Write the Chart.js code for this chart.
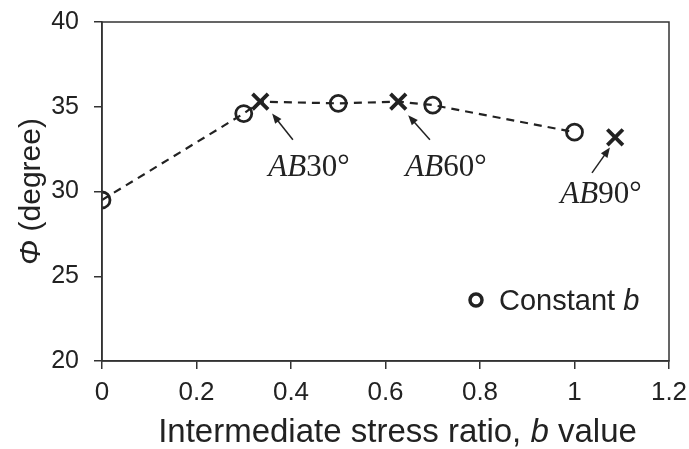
<!DOCTYPE html>
<html>
<head>
<meta charset="utf-8">
<script src="https://cdn.jsdelivr.net/npm/chart.js@4.4.0/dist/chart.umd.min.js"></script>
<style>
  html, body { margin: 0; padding: 0; background: #fff; }
  #wrap { width: 689px; height: 449px; }
</style>
</head>
<body>
<div id="wrap"><canvas id="phiChart" width="689" height="449"></canvas></div>
<script>
// constant b tests
const bConstant = [0, 0.3, 0.5, 0.7, 1.0];
const phiConstant = [29.5, 34.6, 35.2, 35.1, 33.5];

// AB tests (b value, phi)
const bAB = [0.335, 0.627, 1.086];
const phiAB = [35.3, 35.3, 33.2];
const abLabels = ['30°', '60°', '90°'];

// dashed trend line, goes through all points except AB90
const bTrend = [0, 0.3, 0.335, 0.5, 0.627, 0.7, 1.0];
const phiTrend = [29.5, 34.6, 35.3, 35.2, 35.3, 35.1, 33.5];

const xTicks = [0, 0.2, 0.4, 0.6, 0.8, 1, 1.2];
const yTicks = [20, 25, 30, 35, 40];

// label/arrow placement in data units: [labelX, labelY, arrowFromX, arrowFromY, arrowToX, arrowToY]
const abNotes = [
    [0.438, 30.9, 0.404, 33.05, 0.360, 34.6],
    [0.728, 30.9, 0.694, 33.05, 0.648, 34.5],
    [1.056, 29.35, 1.037, 31.1, 1.075, 32.6]
];

const SANS = '"Liberation Sans", Arial, sans-serif';
const SERIF = '"Liberation Serif", "Times New Roman", serif';

function toPoints(xs, ys) {
    return xs.map(function (x, i) { return {x: x, y: ys[i]}; });
}

// frame round the plot area
const framePlugin = {
    id: 'frame',
    afterDraw: function (chart) {
        const a = chart.chartArea;
        const ctx = chart.ctx;
        ctx.save();
        ctx.strokeStyle = '#333';
        ctx.lineWidth = 1.5;
        ctx.strokeRect(a.left, a.top, a.right - a.left, a.bottom - a.top);
        ctx.restore();
    }
};

// axis titles, legend and the AB notes (mixed italic text)
const textPlugin = {
    id: 'texts',
    afterDraw: function (chart) {
        const ctx = chart.ctx;
        const a = chart.chartArea;
        const xs = chart.scales.x;
        const ys = chart.scales.y;
        ctx.save();
        ctx.fillStyle = '#222';
        ctx.textBaseline = 'alphabetic';

        function runs(parts, x, y) {
            // parts: [text, font]
            let w = 0;
            parts.forEach(function (p) { ctx.font = p[1]; w += ctx.measureText(p[0]).width; });
            let cx = x - w / 2;
            ctx.textAlign = 'left';
            parts.forEach(function (p) {
                ctx.font = p[1];
                ctx.fillText(p[0], cx, y);
                cx += ctx.measureText(p[0]).width;
            });
        }

        // x title
        runs([
            ['Intermediate stress ratio, ', '33px ' + SANS],
            ['b', 'italic 33px ' + SANS],
            [' value', '33px ' + SANS]
        ], (a.left + a.right) / 2 + 12, 442);

        // y title
        ctx.save();
        ctx.translate(40, (a.top + a.bottom) / 2);
        ctx.rotate(-Math.PI / 2);
        runs([
            ['Φ', 'italic 30px ' + SANS],
            [' (degree)', '30px ' + SANS]
        ], 0, 0);
        ctx.restore();

        // legend
        ctx.beginPath();
        ctx.lineWidth = 3.5;
        ctx.strokeStyle = '#222';
        ctx.arc(476, 300, 6, 0, Math.PI * 2);
        ctx.stroke();
        ctx.textAlign = 'left';
        ctx.font = '29px ' + SANS;
        ctx.fillText('Constant ', 499, 310);
        const cw = ctx.measureText('Constant ').width;
        ctx.font = 'italic 29px ' + SANS;
        ctx.fillText('b', 499 + cw, 310);

        // AB notes with arrows
        abNotes.forEach(function (n, i) {
            const lx = xs.getPixelForValue(n[0]);
            const ly = ys.getPixelForValue(n[1]);
            runs([
                ['AB', 'italic 31px ' + SERIF],
                [abLabels[i], '31px ' + SERIF]
            ], lx, ly);

            const x1 = xs.getPixelForValue(n[2]);
            const y1 = ys.getPixelForValue(n[3]);
            const x2 = xs.getPixelForValue(n[4]);
            const y2 = ys.getPixelForValue(n[5]);
            const ang = Math.atan2(y2 - y1, x2 - x1);
            ctx.strokeStyle = '#222';
            ctx.lineWidth = 1.5;
            ctx.beginPath();
            ctx.moveTo(x1, y1);
            ctx.lineTo(x2 - 6 * Math.cos(ang), y2 - 6 * Math.sin(ang));
            ctx.stroke();
            ctx.beginPath();
            ctx.moveTo(x2, y2);
            ctx.lineTo(x2 - 10 * Math.cos(ang) + 4 * Math.sin(ang), y2 - 10 * Math.sin(ang) - 4 * Math.cos(ang));
            ctx.lineTo(x2 - 10 * Math.cos(ang) - 4 * Math.sin(ang), y2 - 10 * Math.sin(ang) + 4 * Math.cos(ang));
            ctx.closePath();
            ctx.fillStyle = '#222';
            ctx.fill();
        });
        ctx.restore();
    }
};

const chart = new Chart(document.getElementById('phiChart').getContext('2d'), {
    type: 'scatter',
    data: {
        datasets: [
            {
                label: 'trend',
                data: toPoints(bTrend, phiTrend),
                showLine: true,
                borderColor: '#222',
                borderWidth: 2.2,
                borderDash: [8, 6],
                pointRadius: 0,
                order: 3
            },
            {
                label: 'Constant b',
                data: toPoints(bConstant, phiConstant),
                pointStyle: 'circle',
                pointRadius: 8,
                pointBorderWidth: 2.8,
                pointBorderColor: '#222',
                pointBackgroundColor: 'rgba(255,255,255,0)',
                order: 1
            },
            {
                label: 'AB',
                data: toPoints(bAB, phiAB),
                pointStyle: 'crossRot',
                pointRadius: 11,
                pointBorderWidth: 3.8,
                pointBorderColor: '#222',
                order: 2
            }
        ]
    },
    options: {
        responsive: false,
        animation: false,
        layout: { padding: { top: 22, right: 20, left: 0, bottom: 0 } },
        plugins: {
            legend: { display: false },
            tooltip: { enabled: false }
        },
        scales: {
            x: {
                type: 'linear',
                min: 0,
                max: 1.2,
                afterBuildTicks: function (s) { s.ticks = xTicks.map(function (v) { return {value: v}; }); },
                afterFit: function (s) {
                    s.height = 88;
                    s.paddingLeft = 0;
                    s.paddingRight = 0;
                },
                grid: { drawOnChartArea: false, color: '#333', tickLength: 8, lineWidth: 1.5 },
                border: { color: '#333', width: 1.5 },
                ticks: {
                    color: '#222',
                    font: { family: SANS, size: 26 },
                    padding: 8,
                    maxRotation: 0,
                    callback: function (v) { return String(v); }
                }
            },
            y: {
                type: 'linear',
                min: 20,
                max: 40,
                afterBuildTicks: function (s) { s.ticks = yTicks.map(function (v) { return {value: v}; }); },
                afterFit: function (s) {
                    s.width = 102;
                    s.paddingTop = 0;
                    s.paddingBottom = 0;
                },
                grid: { drawOnChartArea: false, color: '#333', tickLength: 8, lineWidth: 1.5 },
                border: { color: '#333', width: 1.5 },
                ticks: {
                    color: '#222',
                    font: { family: SANS, size: 25 },
                    padding: 15
                }
            }
        }
    },
    plugins: [framePlugin, textPlugin]
});
</script>
</body>
</html>
